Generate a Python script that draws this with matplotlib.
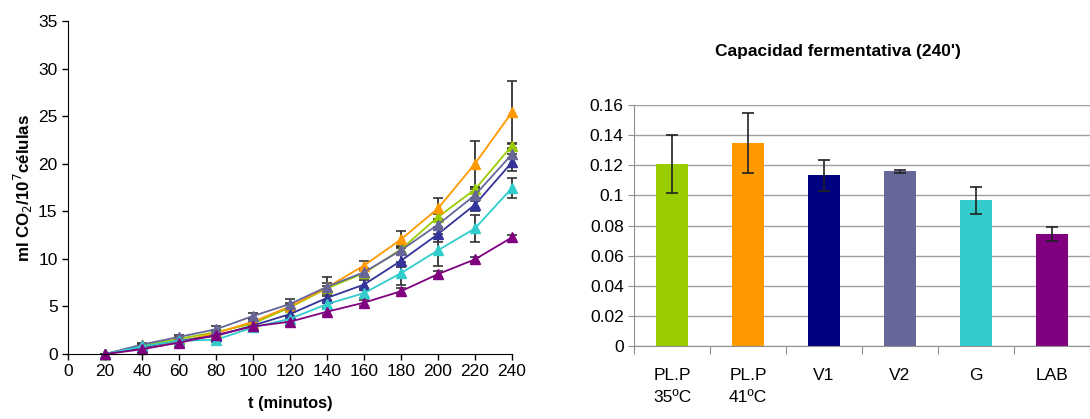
import numpy as np
import matplotlib.pyplot as plt

plt.rcParams['font.family'] = ['Liberation Sans', 'DejaVu Sans']

# datos de la curva de fermentacion (ml CO2 / 10^7 celulas)
tiempos = [20, 40, 60, 80, 100, 120, 140, 160, 180, 200, 220, 240]

pl35 = [0, 0.9, 1.6, 2.3, 3.2, 4.9, 6.9, 8.5, 11.0, 14.4, 17.3, 21.9]
pl41 = [0, 0.6, 1.3, 2.2, 3.4, 5.0, 7.0, 9.3, 12.05, 15.3, 20.0, 25.4]
v1 = [0, 0.7, 1.4, 1.9, 3.0, 4.2, 5.9, 7.3, 9.8, 12.6, 15.7, 20.15]
v2 = [0, 1.0, 1.8, 2.6, 4.0, 5.26, 7.07, 8.6, 10.9, 13.6, 16.7, 21.0]
g = [0, 0.8, 1.4, 1.5, 2.8, 3.7, 5.25, 6.4, 8.5, 10.9, 13.2, 17.45]
lab = [0, 0.5, 1.2, 2.0, 2.9, 3.4, 4.45, 5.4, 6.6, 8.4, 9.95, 12.26]

err_pl35 = [0, 0.2, 0.2, 0.2, 0.2, 0.3, 0.3, 0.3, 0.3, 0.3, 0.3, 0.3]
err_pl41 = [0, 0.2, 0.2, 0.3, 0.3, 0.4, 0.5, 0.5, 0.9, 1.1, 2.4, 3.3]
err_v1 = [0, 0.2, 0.2, 0.2, 0.3, 0.3, 0.4, 0.5, 0.7, 0.8, 0.7, 0.9]
err_v2 = [0, 0.2, 0.2, 0.3, 0.3, 0.5, 1.0, 0.4, 0.5, 0.6, 0.6, 0.4]
err_g = [0, 0.2, 0.2, 0.2, 0.3, 0.3, 0.4, 0.5, 1.2, 1.7, 1.4, 1.05]
err_lab = [0, 0.1, 0.2, 0.2, 0.2, 0.3, 0.3, 0.3, 0.3, 0.3, 0.3, 0.3]

# capacidad fermentativa a 240'
cepas = ['PL.P\n35ºC', 'PL.P\n41ºC', 'V1', 'V2', 'G', 'LAB']
capacidad = [0.1208, 0.1346, 0.1133, 0.1160, 0.0967, 0.0744]
err_capacidad = [0.019, 0.020, 0.0105, 0.0011, 0.009, 0.0049]

colores_lineas = ['#99CC00', '#FF9900', '#333399', '#666699', '#33CCCC', '#800080']
colores_barras = ['#99CC00', '#FF9900', '#000080', '#666699', '#33CCCC', '#800080']

fig = plt.figure(figsize=(10.9, 4.19), dpi=100)

# --- grafico de lineas ---
ax1 = fig.add_axes([0.0624, 0.155, 0.4073, 0.795])
series = [pl35, pl41, v1, v2, g, lab]
errores = [err_pl35, err_pl41, err_v1, err_v2, err_g, err_lab]
for ys, es, c in zip(series, errores, colores_lineas):
    ax1.errorbar(tiempos, ys, yerr=es, color=c, ecolor='#333333',
                 elinewidth=1.3, capsize=3.5, capthick=1.2,
                 marker='^', markersize=6.5, linewidth=1.3, clip_on=False)
ax1.set_xlim(0, 240)
ax1.set_ylim(0, 35)
ax1.set_xticks(range(0, 241, 20))
ax1.set_yticks(range(0, 36, 5))
ax1.spines['top'].set_visible(False)
ax1.spines['right'].set_visible(False)
ax1.tick_params(labelsize=12.5, length=4, width=1)
ax1.set_xlabel('t (minutos)', fontsize=11.8, fontweight='bold', labelpad=12)
ax1.set_ylabel('ml CO$_2$/10$^7$células', fontsize=12.2, fontweight='bold', labelpad=2)

# --- grafico de barras ---
ax2 = fig.add_axes([0.5817, 0.1742, 0.4183, 0.5752])
pos = np.arange(len(cepas))
ax2.bar(pos, capacidad, width=0.41, color=colores_barras, zorder=2)
ax2.errorbar(pos, capacidad, yerr=err_capacidad, fmt='none', ecolor='#222222',
             elinewidth=1.2, capsize=4, capthick=1.2, zorder=3)
ax2.set_xlim(-0.5, 5.5)
ax2.set_ylim(0, 0.16)
ax2.set_yticks(np.arange(0, 0.161, 0.02))
ax2.set_yticklabels(['0', '0.02', '0.04', '0.06', '0.08', '0.1', '0.12', '0.14', '0.16'])
ax2.set_xticks(np.arange(-0.5, 6, 1))
ax2.set_xticklabels([])
ax2.set_xticks(pos, minor=True)
ax2.set_xticklabels(cepas, minor=True, fontsize=12.5, linespacing=1.55, va='top')
ax2.tick_params(axis='x', which='minor', length=0, pad=16)
ax2.tick_params(axis='x', which='major', length=6, color='#909090')
ax2.tick_params(axis='y', labelsize=12.5, length=4, color='#909090')
ax2.yaxis.grid(True, color='#A0A0A0', linewidth=1)
ax2.set_axisbelow(True)
for s in ['top', 'right']:
    ax2.spines[s].set_visible(False)
for s in ['left', 'bottom']:
    ax2.spines[s].set_color('#909090')
fig.text(0.769, 0.878, "Capacidad fermentativa (240')", ha='center', va='center',
         fontsize=12.5, fontweight='bold')

fig.savefig('out.png', dpi=100)
